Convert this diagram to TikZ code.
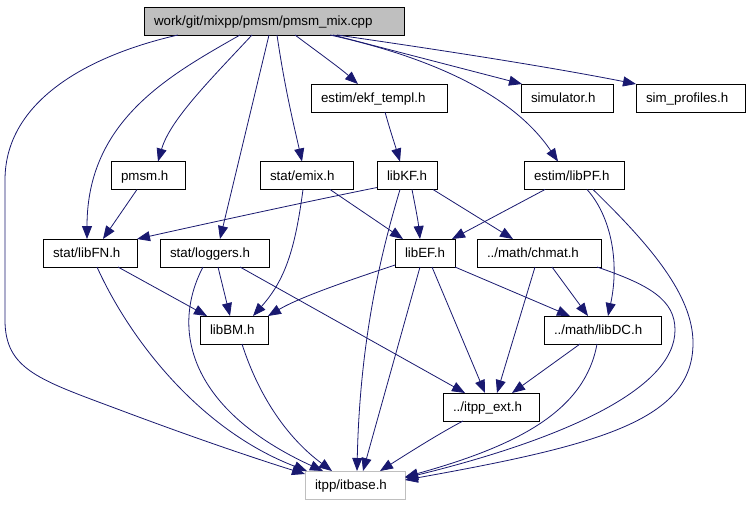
\documentclass[tikz,border=0pt]{standalone}
\usepackage{fontspec}
\setmainfont{Liberation Sans}
\usetikzlibrary{arrows.meta}
\definecolor{edgeblue}{HTML}{191970}
\definecolor{rootgray}{HTML}{BFBFBF}
\definecolor{boxgray}{HTML}{BFBFBF}
\tikzset{
  box/.style={draw=black, line width=0.8pt, fill=white, minimum height=28pt,
    inner xsep=10pt, inner ysep=0pt, text height=9.5pt, text depth=0pt,
    align=left, font=\fontsize{13.33}{16}\selectfont, outer sep=0pt},
  e/.style={draw=edgeblue, line width=0.8pt, -{Triangle[length=13pt,width=10pt]}},
}
\begin{document}
\begin{tikzpicture}[x=1pt,y=-1pt]
\fill[white] (0,0) rectangle (751,504);
\useasboundingbox (0,0) rectangle (751,504);
% nodes
\node[box, text width=240pt, fill=rootgray] (root) at (274,21) {work/git/mixpp/pmsm/pmsm\_mix.cpp};
\node[box, text width=116pt] (ekf) at (379,98) {estim/ekf\_templ.h};
\node[box, text width=72pt] (sim) at (567,98) {simulator.h};
\node[box, text width=89pt] (simprof) at (690.5,98) {sim\_profiles.h};
\node[box, text width=54pt] (pmsm) at (148,175.5) {pmsm.h};
\node[box, text width=73pt] (emix) at (306.5,175.5) {stat/emix.h};
\node[box, text width=40pt] (libKF) at (407,175.5) {libKF.h};
\node[box, text width=80pt] (libPF) at (574,175.5) {estim/libPF.h};
\node[box, text width=74pt] (libFN) at (90,253) {stat/libFN.h};
\node[box, text width=89pt] (loggers) at (214.5,253) {stat/loggers.h};
\node[box, text width=40pt] (libEF) at (425,253) {libEF.h};
\node[box, text width=104pt] (chmat) at (539,253) {../math/chmat.h};
\node[box, text width=48pt] (libBM) at (234,330) {libBM.h};
\node[box, text width=97pt] (libDC) at (602.5,330) {../math/libDC.h};
\node[box, text width=76pt] (itppext) at (491,407) {../itpp\_ext.h};
\node[box, text width=80pt, draw=boxgray] (itbase) at (355,485) {itpp/itbase.h};
% edges from root
\draw[e] ([xshift=-96pt]root.south) .. controls (90,55) and (5,100) .. (5,180) -- (5,320) .. controls (5,370) and (40,380) .. (120,410) .. controls (200,440) and (260,460) .. ([yshift=-3pt]itbase.north west);
\draw[e] ([xshift=-34pt]root.south) .. controls (170,75) and (87,120) .. ([xshift=-3pt]libFN.north);
\draw[e] ([xshift=-22pt]root.south) .. controls (210,80) and (170,120) .. ([xshift=10pt]pmsm.north);
\draw[e] ([xshift=-5pt]root.south) -- ([xshift=5.5pt]loggers.north);
\draw[e] ([xshift=3pt]root.south) .. controls (285,90) and (295,130) .. ([xshift=-4.5pt]emix.north);
\draw[e] ([xshift=21pt]root.south) .. controls (315,50) and (340,68) .. ([xshift=-21pt]ekf.north);
\draw[e] ([xshift=59pt]root.south) -- ([xshift=1pt]sim.north west);
\draw[e] ([xshift=63pt]root.south) .. controls (420,47) and (540,65) .. (simprof.north west);
\draw[e] ([xshift=56pt]root.south) .. controls (420,55) and (510,90) .. ([xshift=-16pt]libPF.north);
% second level
\draw[e] ([xshift=6pt]ekf.south) .. controls (390,130) and (395,145) .. ([xshift=-7pt]libKF.north);
\draw[e] ([xshift=-11pt]pmsm.south) -- ([xshift=13pt]libFN.north);
\draw[e] ([yshift=2pt]libKF.south west) .. controls (300,203) and (200,225) .. (libFN.north east);
\draw[e] ([xshift=23.5pt]emix.south) -- ([xshift=-22pt]libEF.north);
\draw[e] ([xshift=-3.5pt]emix.south) .. controls (295,250) and (285,280) .. ([xshift=19pt]libBM.north);
\draw[e] ([xshift=5pt]libKF.south) .. controls (415,205) and (418,220) .. ([xshift=-5pt]libEF.north);
\draw[e] ([xshift=26pt]libKF.south) -- ([xshift=-26pt]chmat.north);
\draw[e] ([xshift=-7pt]libKF.south) .. controls (385,240) and (360,330) .. ([xshift=2pt]itbase.north);
\draw[e] ([xshift=-29pt]libPF.south) -- ([xshift=27pt]libEF.north);
\draw[e] ([xshift=13pt]libPF.south) .. controls (610,215) and (620,260) .. ([xshift=5.5pt]libDC.north);
\draw[e] ([xshift=19pt]libPF.south) .. controls (650,245) and (693,295) .. (693,343) .. controls (693,420) and (600,445) .. ([yshift=5pt]itbase.east);
% third level
\draw[e] ([xshift=28pt]libFN.south) -- ([xshift=-27pt]libBM.north);
\draw[e] ([xshift=7pt]libFN.south) .. controls (130,340) and (200,430) .. ([xshift=2pt]itbase.north west);
\draw[e] ([xshift=3.5pt]loggers.south) -- ([xshift=-4pt]libBM.north);
\draw[e] ([xshift=-11.5pt]loggers.south) .. controls (170,330) and (190,410) .. ([xshift=-32pt]itbase.north);
\draw[e] ([xshift=25.5pt]loggers.south) -- ([xshift=-26pt]itppext.north);
\draw[e] ([yshift=2pt]libEF.south west) .. controls (350,280) and (300,297) .. (libBM.north east);
\draw[e] ([xshift=-5pt]libEF.south) -- ([xshift=8pt]itbase.north);
\draw[e] ([xshift=7pt]libEF.south) -- ([xshift=-6pt]itppext.north);
\draw[e] (libEF.south east) -- ([xshift=-32.5pt]libDC.north);
\draw[e] ([xshift=-4pt]chmat.south) -- ([xshift=6pt]itppext.north);
\draw[e] ([xshift=13pt]chmat.south) -- ([xshift=-14.5pt]libDC.north);
\draw[e] ([xshift=58pt]chmat.south) .. controls (650,285) and (675,300) .. (675,330) .. controls (675,390) and (560,440) .. ([yshift=7pt]itbase.east);
% lower levels
\draw[e] ([xshift=-22.5pt]libDC.south) -- ([xshift=21pt]itppext.north);
\draw[e] ([xshift=-5.5pt]libDC.south) .. controls (585,410) and (520,445) .. ([yshift=8pt]itbase.east);
\draw[e] ([xshift=-28pt]itppext.south) .. controls (440,433) and (410,452) .. ([xshift=25pt]itbase.north);
\draw[e] ([xshift=8pt]libBM.south) .. controls (260,400) and (290,440) .. ([xshift=-23pt]itbase.north);
\end{tikzpicture}
\end{document}
